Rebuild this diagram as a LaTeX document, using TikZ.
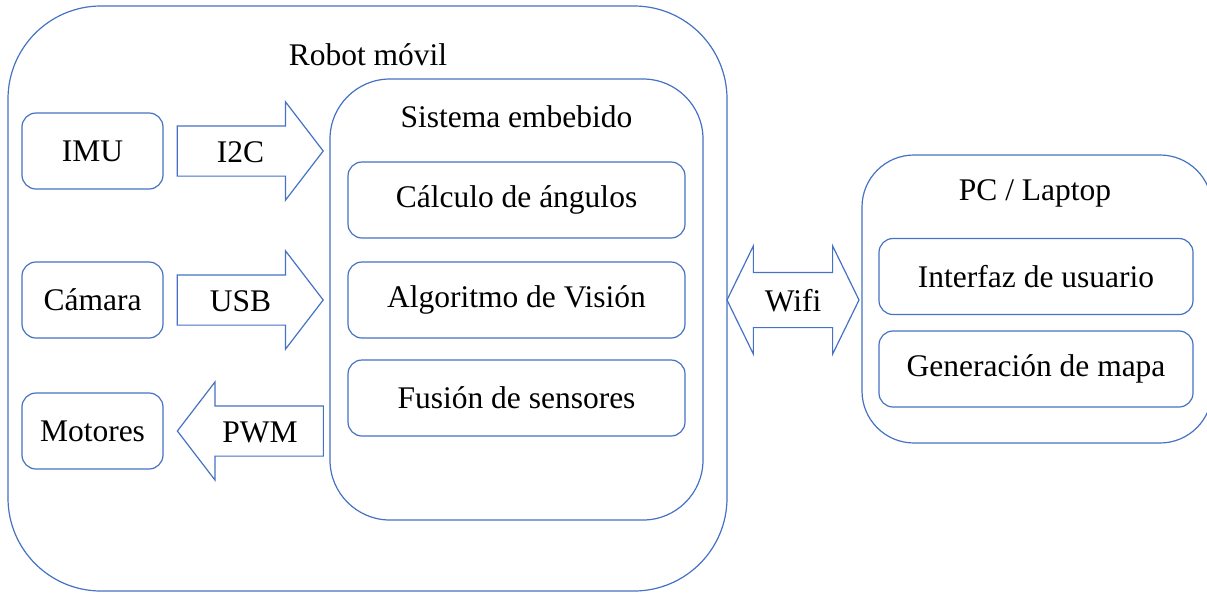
\documentclass[tikz,border=0pt]{standalone}
\usepackage{fontspec}
\setmainfont{Liberation Serif}
\usetikzlibrary{shapes.arrows}
\definecolor{boxblue}{RGB}{68,114,196}

\begin{document}
\begin{tikzpicture}
  [x=1pt,y=-1pt,
   every node/.style={font=\fontsize{31.5}{38}\selectfont, text=black},
   frame/.style={rectangle, draw=boxblue, line width=1.2pt, inner sep=0pt},
   block/.style={frame, rounded corners=14pt, minimum height=76pt},
   blockarrow/.style={single arrow, draw=boxblue, line width=1.2pt, single arrow tip angle=105,
     single arrow head extend=24pt, minimum height=146pt, text height=22pt, text depth=0pt,
     inner ysep=13.5pt, inner xsep=4pt},
   wifiarrow/.style={double arrow, draw=boxblue, line width=1.2pt, double arrow tip angle=128,
     double arrow head extend=26.5pt, minimum height=132pt, text height=22pt, text depth=0pt,
     inner ysep=16pt, inner xsep=2pt}]

 \useasboundingbox (0,0) rectangle (1207,592);

 % containers
 \node[frame, rounded corners=93pt, minimum width=719pt, minimum height=585pt] (robot) at (367.5,298.5) {};
 \node[frame, rounded corners=60pt, minimum width=373pt, minimum height=441pt] (sistema) at (516.5,299.5) {};
 \node[frame, rounded corners=52pt, minimum width=350pt, minimum height=288pt] (pc) at (1037,299) {};

 \node (robottitle) at (368,55) {Robot móvil};
 \node (sistematitle) at (516.5,117) {Sistema embebido};
 \node (pctitle) at (1035,193) {PC / Laptop};

 % sensors and actuators
 \node[block, minimum width=141pt] (imu) at (92.5,151) {IMU};
 \node[block, minimum width=141pt] (camara) at (92.5,300) {Cámara};
 \node[block, minimum width=141pt] (motores) at (92.5,431) {Motores};

 % embedded tasks
 \node[block, minimum width=337pt] (calculo) at (516.5,200) {Cálculo de ángulos};
 \node[block, minimum width=337pt] (vision) at (516.5,300) {Algoritmo de Visión};
 \node[block, minimum width=337pt] (fusion) at (516.5,398) {Fusión de sensores};

 % pc tasks
 \node[block, minimum width=314pt] (interfaz) at (1036,276.5) {Interfaz de usuario};
 \node[block, minimum width=314pt] (mapa) at (1036,369) {Generación de mapa};

 % block arrows
 \node[blockarrow, anchor=tail] (i2c) at ([xshift=13pt]imu.east) {I2C};
 \node[blockarrow, anchor=tail] (usb) at ([xshift=13pt]camara.east) {USB};
 \node[blockarrow, shape border rotate=180, anchor=tip] (pwm) at ([xshift=13pt]motores.east) {PWM};
 \node[wifiarrow] (wifi) at (793,300) {Wifi};

\end{tikzpicture}
\end{document}
